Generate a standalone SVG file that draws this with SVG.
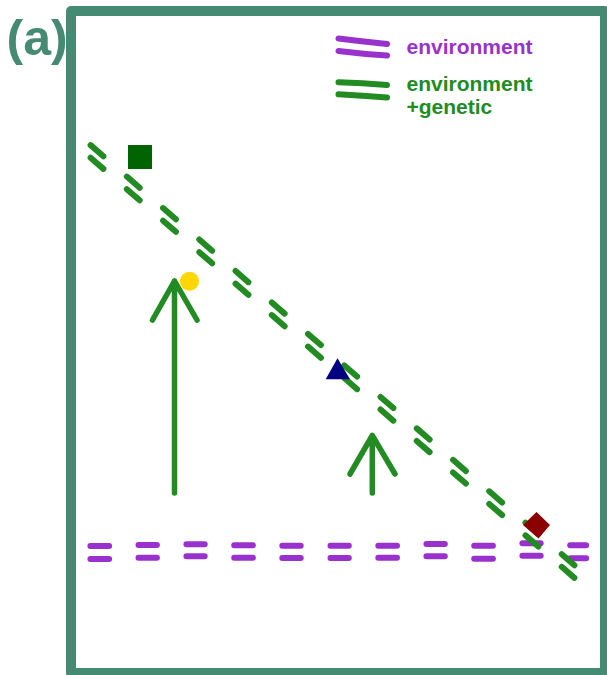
<svg xmlns="http://www.w3.org/2000/svg" width="607" height="675" viewBox="0 0 607 675">
  <style>
    .lbl { font-family: "Liberation Sans", Arial, sans-serif; font-weight: bold; }
    .env { fill: none; stroke: #9932CC; stroke-width: 6; stroke-linecap: round; }
    .gen { fill: none; stroke: #228B22; stroke-width: 6; stroke-linecap: round; }
    .arrow { fill: none; stroke: #228B22; stroke-width: 5.5; stroke-linecap: round; stroke-linejoin: round; }
  </style>
  <rect width="607" height="675" fill="#ffffff"/>
  <g id="frame">
    <rect x="71" y="11" width="534" height="662" fill="#ffffff" stroke="#458B74" stroke-width="10" stroke-linejoin="round"/>
  </g>
  <g id="panel-label">
    <text class="lbl" x="6.5" y="55" font-size="50" fill="#458B74">(a)</text>
  </g>
  <g id="legend">
    <path class="env" d="M338.5,38.5 Q362,41.5 387,44 M338.5,51 Q362,54 387,55.5"/>
    <text class="lbl" x="406.5" y="54" font-size="21" fill="#9932CC">environment</text>
    <path class="gen" d="M338.5,82.3 Q362,83 387,85 M338.5,94.3 Q362,95.5 387,97.5"/>
    <text class="lbl" font-size="21" fill="#228B22"><tspan x="406.5" y="91">environment</tspan><tspan x="406.5" y="114">+genetic</tspan></text>
  </g>
  <g id="connectors">
    <path id="env-line" class="env" d="M90.4,546 H109.1 M90.4,559 H109.1 M138.5,545 H156.9 M138.5,557.7 H156.9 M186.4,544.3 H204.7 M186.4,556.3 H204.7 M234.2,545.3 H252.9 M234.2,557.7 H252.9 M282.3,545.7 H300.7 M282.3,558 H300.7 M330.5,545.7 H348.8 M330.5,558 H348.8 M378.3,545.7 H397 M378.3,557.7 H397 M426.4,544 H444.8 M426.4,556.3 H444.8 M474.2,545.7 H492.9 M474.2,558.7 H492.9 M522.4,543.3 H540.7 M522.4,555.7 H540.7 M570.2,545.3 H586.1 M570.2,558.3 H586.1"/>
    <g id="gen-line">
      <path class="gen" stroke-dasharray="17 31" d="M90.58,145.13 L574.42,565.27"/>
      <path class="gen" stroke-dasharray="17 31" d="M90.58,157.73 L574.42,577.87"/>
    </g>
    <path id="arrow-left" class="arrow" d="M174.5,493 V281 M152.5,320 L174.5,281 L197,320"/>
    <path id="arrow-right" class="arrow" d="M372.3,493 V435.5 M350,474 L372.3,435.5 L395,474"/>
  </g>
  <g id="marker-square"><rect x="128" y="145" width="24" height="24" fill="#006400"/></g>
  <g id="marker-circle"><circle cx="189.5" cy="281.2" r="9.5" fill="#FFD700"/></g>
  <g id="marker-triangle"><polygon points="337.5,358.3 350,379.3 325.7,379.3" fill="#000080"/></g>
  <g id="marker-diamond"><polygon points="536.5,512 550,525 538.5,538.5 523,525" fill="#8B0000"/></g>
</svg>
